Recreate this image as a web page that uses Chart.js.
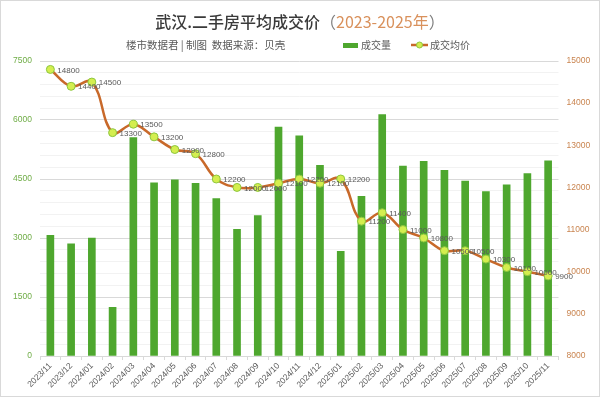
<!DOCTYPE html>
<html>
<head>
<meta charset="utf-8">
<script src="https://cdn.jsdelivr.net/npm/chart.js@4/dist/chart.umd.min.js"></script>
<style>
  html, body { margin:0; padding:0; background:#fff; }
  #wrap { position:relative; width:600px; height:397px; font-family:"Noto Sans CJK SC","Liberation Sans",sans-serif; }
  #frame { position:absolute; left:0; top:0; width:598px; height:395px; border:1px solid #d9d9d9; pointer-events:none; }
  #title { position:absolute; left:0; width:600px; top:10px; text-align:center; font-size:16px; color:#3a3a3a; line-height:22px; white-space:nowrap; font-weight:500; }
  #title .yr { color:#d9915c; font-weight:400; }
  #title .par { color:#7f7f7f; font-weight:400; }
  #sub { position:absolute; left:126px; top:37px; font-size:10.5px; color:#595959; line-height:16px; white-space:nowrap; }
  #leg { position:absolute; left:343px; top:37px; font-size:10px; color:#595959; line-height:16px; white-space:nowrap; }
  #leg .box { display:inline-block; width:15px; height:5px; background:#4ea72e; vertical-align:middle; margin-right:3px; position:relative; top:-1px; }
  #leg .ln { display:inline-block; width:17px; height:10px; vertical-align:middle; margin-left:20px; margin-right:2px; position:relative; top:-1px; }
  canvas { position:absolute; left:0; top:0; }
</style>
</head>
<body>
<div id="wrap">
  <canvas id="c" width="600" height="397"></canvas>
  <div id="title">武汉.二手房平均成交价<span class="par">（</span><span class="yr">2023-2025年</span><span class="par">）</span></div>
  <div id="sub">楼市数据君 | 制图&nbsp; 数据来源：贝壳</div>
  <div id="leg"><span class="box"></span>成交量<svg class="ln" viewBox="0 0 17 10"><line x1="0" y1="5" x2="17" y2="5" stroke="#c8692a" stroke-width="2.5"/><circle cx="8.5" cy="5" r="3" fill="#d4ee4f" stroke="#8cc63f" stroke-width="1"/></svg>成交均价</div>
  <div id="frame"></div>
</div>
<script>
const categories = ["2023/11","2023/12","2024/01","2024/02","2024/03","2024/04","2024/05","2024/06","2024/07","2024/08","2024/09","2024/10","2024/11","2024/12","2025/01","2025/02","2025/03","2025/04","2025/05","2025/06","2025/07","2025/08","2025/09","2025/10","2025/11"];
const volume = [3070,2850,3000,1240,5550,4400,4480,4390,4000,3220,3570,5820,5600,4850,2660,4060,6140,4830,4950,4720,4450,4180,4350,4640,4960];
const avgPrice = [14800,14400,14500,13300,13500,13200,12900,12800,12200,12000,12000,12100,12200,12100,12200,11200,11400,11000,10800,10500,10500,10300,10100,10000,9900];
const leftTicks = [0,1500,3000,4500,6000,7500];
const rightTicks = [8000,9000,10000,11000,12000,13000,14000,15000];

const labelPlugin = {
  id: 'lineLabels',
  afterDatasetsDraw(chart) {
    const ctx = chart.ctx;
    const meta = chart.getDatasetMeta(1);
    ctx.save();
    ctx.font = '8px "Liberation Sans", Arial, sans-serif';
    ctx.fillStyle = '#595959';
    ctx.textAlign = 'left';
    ctx.textBaseline = 'middle';
    meta.data.forEach((pt, i) => {
      ctx.fillText(String(avgPrice[i]), pt.x + 7, pt.y + 1);
    });
    ctx.restore();
  }
};

new Chart(document.getElementById('c'), {
  data: {
    labels: categories,
    datasets: [
      {
        type: 'bar', label: '成交量', data: volume, yAxisID: 'y',
        backgroundColor: '#4ea72e', barThickness: 7, order: 2
      },
      {
        type: 'line', label: '成交均价', data: avgPrice, yAxisID: 'y1',
        borderColor: '#c8692a', borderWidth: 2.5, tension: 0.4,
        pointRadius: 4, pointBackgroundColor: '#d4ee4f', pointBorderColor: '#8cc63f', pointBorderWidth: 1,
        order: 1
      }
    ]
  },
  options: {
    responsive: false,
    animation: false,
    layout: { padding: { top: 61, left: 0, right: 0, bottom: 0 } },
    plugins: { legend: { display: false }, title: { display: false }, tooltip: { enabled: false } },
    scales: {
      x: {
        offset: true,
        grid: { display: true, offset: true, drawOnChartArea: false, drawTicks: true, tickLength: 4, color: '#d9d9d9' },
        border: { display: true, color: '#d9d9d9' },
        ticks: { autoSkip: false, maxRotation: 45, minRotation: 45, padding: 1, color: '#595959', font: { size: 8.5, family: '"Liberation Sans", Arial, sans-serif' } },
        afterFit(s) { s.height = 41; }
      },
      y: {
        position: 'left', min: 0, max: 7500,
        afterBuildTicks(s) { const t = []; for (let v = 0; v <= 7500; v += 300) t.push({ value: v }); s.ticks = t; },
        ticks: {
          autoSkip: false,
          callback: (v) => leftTicks.includes(v) ? String(v) : '',
          color: '#70ad47', padding: 8, font: { size: 8.5, family: '"Liberation Sans", Arial, sans-serif' }
        },
        grid: { drawTicks: false, color: (c) => (leftTicks.includes(c.tick.value) ? '#d9d9d9' : '#f2f2f2'), lineWidth: 1 },
        border: { display: false },
        afterFit(s) { s.width = 40; }
      },
      y1: {
        position: 'right', min: 8000, max: 15000,
        afterBuildTicks(s) { s.ticks = rightTicks.map(v => ({ value: v })); },
        ticks: { autoSkip: false, callback: (v) => String(v), color: '#c9844f', padding: 8, font: { size: 8.5, family: '"Liberation Sans", Arial, sans-serif' } },
        grid: { display: false, drawTicks: false },
        border: { display: false },
        afterFit(s) { s.width = 41.5; }
      }
    }
  },
  plugins: [labelPlugin]
});
</script>
</body>
</html>
